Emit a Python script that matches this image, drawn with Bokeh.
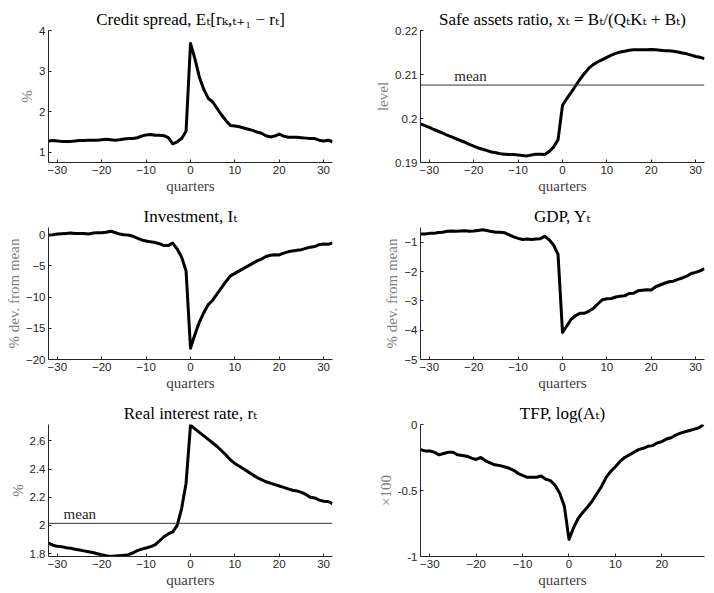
from bokeh.plotting import figure
from bokeh.layouts import column, row
from bokeh.models import Range1d, FixedTicker, Span, Label
from bokeh.embed import file_html
from bokeh.resources import INLINE

# ---------------- data ----------------
quarters = list(range(-32, 33))
quarters_tfp = list(range(-32, 30))

credit_spread = [1.28, 1.29, 1.28, 1.27, 1.27, 1.27, 1.28, 1.29, 1.29, 1.30, 1.30, 1.30, 1.31, 1.32, 1.31, 1.30,
                 1.31, 1.33, 1.34, 1.34, 1.36, 1.40, 1.43, 1.44, 1.42, 1.42, 1.41, 1.36, 1.21, 1.26, 1.34, 1.52,
                 3.68,
                 3.30, 2.85, 2.55, 2.33, 2.24, 2.08, 1.92, 1.78, 1.66, 1.65, 1.63, 1.60, 1.57, 1.54, 1.50, 1.47,
                 1.41, 1.38, 1.40, 1.45, 1.40, 1.37, 1.37, 1.37, 1.36, 1.35, 1.34, 1.34, 1.30, 1.28, 1.30, 1.26]

safe_assets = [0.1988, 0.1984, 0.1980, 0.1975, 0.1971, 0.1967, 0.1962, 0.1958, 0.1954, 0.1950, 0.1946, 0.1941,
               0.1937, 0.1933, 0.1930, 0.1927, 0.1924, 0.1922, 0.1920, 0.1919, 0.1918, 0.1918, 0.1917, 0.1916,
               0.1915, 0.1917, 0.1919, 0.1919, 0.1918, 0.1925, 0.1935, 0.1952,
               0.2030,
               0.2046, 0.2060, 0.2075, 0.2090, 0.2103, 0.2115, 0.2123, 0.2129, 0.2134, 0.2139, 0.2144, 0.2148,
               0.2151, 0.2153, 0.2155, 0.2156, 0.2156, 0.2156, 0.2156, 0.2157, 0.2156, 0.2155, 0.2154, 0.2154,
               0.2153, 0.2151, 0.2149, 0.2147, 0.2144, 0.2141, 0.2139, 0.2136]
safe_assets_mean = 0.2076

investment = [-0.05, 0.0, 0.1, 0.15, 0.2, 0.25, 0.2, 0.2, 0.2, 0.1, 0.25, 0.3, 0.3, 0.4, 0.55, 0.35,
              0.1, 0.0, -0.05, -0.25, -0.55, -0.85, -1.0, -1.15, -1.25, -1.45, -1.75, -1.75, -1.35, -2.3, -3.6, -5.8,
              -18.2,
              -16.0, -14.0, -12.5, -11.2, -10.5, -9.5, -8.5, -7.5, -6.6, -6.2, -5.8, -5.4, -5.0, -4.6, -4.2, -3.9,
              -3.5, -3.3, -3.2, -3.25, -2.95, -2.75, -2.6, -2.5, -2.4, -2.2, -2.0, -1.9, -1.6, -1.5, -1.55, -1.3]

gdp = [-0.72, -0.72, -0.70, -0.70, -0.67, -0.66, -0.63, -0.62, -0.63, -0.62, -0.61, -0.63, -0.62, -0.60, -0.58, -0.60,
       -0.64, -0.66, -0.66, -0.68, -0.75, -0.82, -0.87, -0.91, -0.89, -0.91, -0.89, -0.88, -0.80, -0.92, -1.10, -1.42,
       -4.08,
       -3.85, -3.62, -3.50, -3.42, -3.42, -3.35, -3.25, -3.10, -2.96, -2.93, -2.92, -2.87, -2.84, -2.83, -2.75, -2.74,
       -2.66, -2.64, -2.62, -2.63, -2.52, -2.46, -2.40, -2.35, -2.33, -2.27, -2.22, -2.16, -2.07, -2.03, -1.98, -1.90]

real_rate = [1.875, 1.86, 1.852, 1.85, 1.842, 1.838, 1.832, 1.826, 1.82, 1.814, 1.808, 1.80, 1.792, 1.785, 1.78, 1.784,
             1.786, 1.788, 1.793, 1.805, 1.822, 1.832, 1.84, 1.85, 1.862, 1.89, 1.92, 1.94, 1.955, 2.00, 2.12, 2.30,
             2.712,
             2.685, 2.66, 2.635, 2.61, 2.585, 2.56, 2.53, 2.50, 2.465, 2.44, 2.42, 2.40, 2.38, 2.36, 2.34, 2.325,
             2.31, 2.30, 2.29, 2.28, 2.27, 2.26, 2.25, 2.245, 2.235, 2.22, 2.20, 2.195, 2.18, 2.172, 2.17, 2.155]
real_rate_mean = 2.015

tfp = [-0.19, -0.20, -0.20, -0.21, -0.23, -0.22, -0.21, -0.21, -0.23, -0.235, -0.24, -0.255, -0.265, -0.25, -0.275,
       -0.29, -0.305, -0.31, -0.32, -0.33, -0.345, -0.37, -0.385, -0.40, -0.40, -0.40, -0.39, -0.415, -0.425, -0.46,
       -0.52, -0.62,
       -0.87,
       -0.78, -0.71, -0.665, -0.625, -0.58, -0.525, -0.47, -0.40, -0.355, -0.32, -0.28, -0.25, -0.23, -0.21, -0.19,
       -0.18, -0.165, -0.16, -0.14, -0.13, -0.11, -0.10, -0.08, -0.065, -0.055, -0.045, -0.035, -0.025, 0.0]

x_ticks = [-30, -20, -10, 0, 10, 20, 30]
x_ticks_tfp = [-30, -20, -10, 0, 10, 20]

cs_ticks = [1, 2, 3, 4]
sa_ticks = [0.19, 0.20, 0.21, 0.22]
sa_tick_labels = ["0.19", "0.2", "0.21", "0.22"]
inv_ticks = [-20, -15, -10, -5, 0]
gdp_ticks = [-5, -4, -3, -2, -1]
rr_ticks = [1.8, 2.0, 2.2, 2.4, 2.6]
rr_tick_labels = ["1.8", "2", "2.2", "2.4", "2.6"]
tfp_ticks = [-1, -0.5, 0]
tfp_tick_labels = ["-1", "-0.5", "0"]

titles = [
    "Credit spread, E\u209c[r\u2096,\u209c\u208a\u2081 \u2212 r\u209c]",
    "Safe assets ratio, x\u209c = B\u209c/(Q\u209cK\u209c + B\u209c)",
    "Investment, I\u209c",
    "GDP, Y\u209c",
    "Real interest rate, r\u209c",
    "TFP, log(A\u209c)",
]
ylabels = ["%", "level", "% dev. from mean", "% dev. from mean", "%", "\u00d7100"]
xlabel = "quarters"

SERIF = "Liberation Serif, DejaVu Serif"
SANS = "Liberation Sans"
AX = "#262626"


def make_fig(left, top_row, title, ylab, xs, ys, xr, yr, xt, yt, ytl=None):
    if left:
        w, bl, br = 372, 48, 40
    else:
        w, bl, br = 340, 48, 8
    bt = 30
    p = figure(width=w, height=197, output_backend="svg", toolbar_location=None,
               x_range=Range1d(*xr), y_range=Range1d(*yr),
               min_border_left=bl, min_border_right=br, min_border_top=bt, min_border_bottom=35)
    p.title.text = title
    p.title.text_font = SERIF
    p.title.text_font_size = "17px"
    p.title.text_font_style = "normal"
    p.title.text_color = "black"
    p.title.align = "center"
    p.title.standoff = 3
    p.outline_line_color = None
    p.xgrid.visible = False
    p.ygrid.visible = False
    p.background_fill_color = "white"
    p.border_fill_color = "white"
    for ax in (p.xaxis[0], p.yaxis[0]):
        ax.axis_line_color = AX
        ax.axis_line_width = 1
        ax.major_tick_line_color = AX
        ax.major_tick_in = 3
        ax.major_tick_out = 0
        ax.minor_tick_line_color = None
        ax.major_label_text_font = SANS
        ax.major_label_text_font_size = "11.5px"
        ax.major_label_text_color = AX
        ax.major_label_standoff = 3
        ax.axis_label_text_font = SERIF
        ax.axis_label_text_font_size = "15px"
        ax.axis_label_text_font_style = "normal"
        ax.axis_label_standoff = 1
    p.xaxis.ticker = FixedTicker(ticks=xt)
    p.yaxis.ticker = FixedTicker(ticks=yt)
    if ytl is not None:
        p.yaxis.major_label_overrides = {t: l for t, l in zip(yt, ytl)}
    p.xaxis.axis_label = xlabel
    p.xaxis.axis_label_text_color = "#404040"
    p.yaxis.axis_label = ylab
    p.yaxis.axis_label_text_color = "#7f7f7f"
    p.line(xs, ys, line_color="black", line_width=3, line_join="round")
    return p


f1 = make_fig(True, True, titles[0], ylabels[0], quarters, credit_spread, (-32, 32), (0.75, 4), x_ticks, cs_ticks)
f2 = make_fig(False, True, titles[1], ylabels[1], quarters, safe_assets, (-32, 32), (0.19, 0.22), x_ticks, sa_ticks,
              sa_tick_labels)
f2.add_layout(Span(location=safe_assets_mean, dimension="width", line_color="#333333", line_width=1))
f2.add_layout(Label(x=-24.4, y=safe_assets_mean, y_offset=1, text="mean", text_font=SERIF,
                    text_font_size="15px", text_baseline="bottom", text_color="#262626"))
f3 = make_fig(True, False, titles[2], ylabels[2], quarters, investment, (-32, 32), (-20, 1.15), x_ticks, inv_ticks)
f4 = make_fig(False, False, titles[3], ylabels[3], quarters, gdp, (-32, 32), (-5, -0.5), x_ticks, gdp_ticks)
f5 = make_fig(True, False, titles[4], ylabels[4], quarters, real_rate, (-32, 32), (1.78, 2.716), x_ticks, rr_ticks,
              rr_tick_labels)
f5.add_layout(Span(location=real_rate_mean, dimension="width", line_color="#333333", line_width=1))
f5.add_layout(Label(x=-28.6, y=real_rate_mean, y_offset=1, text="mean", text_font=SERIF,
                    text_font_size="15px", text_baseline="bottom", text_color="#262626"))
f6 = make_fig(False, False, titles[5], ylabels[5], quarters_tfp, tfp, (-32, 29.2), (-1, 0), x_ticks_tfp, tfp_ticks,
              tfp_tick_labels)

layout = column(row(f1, f2), row(f3, f4), row(f5, f6))

open("out.html", "w").write(file_html(layout, INLINE))
